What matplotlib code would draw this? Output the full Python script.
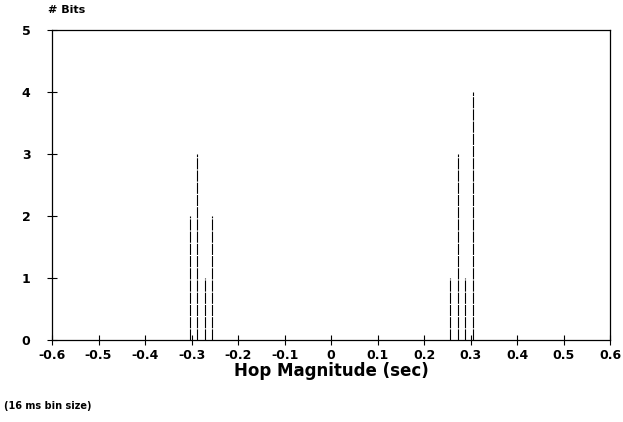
import matplotlib.pyplot as plt

# hop magnitudes (bin centres, 16 ms bins) and counts
hop_left = [-0.304, -0.288, -0.272, -0.256]
bits_left = [2, 3, 1, 2]
hop_right = [0.256, 0.272, 0.288, 0.304]
bits_right = [1, 3, 1, 4]

x_ticks = [-0.6, -0.5, -0.4, -0.3, -0.2, -0.1, 0, 0.1, 0.2, 0.3, 0.4, 0.5, 0.6]
x_labels = ['-0.6', '-0.5', '-0.4', '-0.3', '-0.2', '-0.1', '0',
            '0.1', '0.2', '0.3', '0.4', '0.5', '0.6']
y_ticks = [0, 1, 2, 3, 4, 5]

fig = plt.figure(figsize=(6.23, 4.22), dpi=100)
ax = fig.add_axes([0.0835, 0.194, 0.896, 0.735])

ax.vlines(hop_left + hop_right, 0, bits_left + bits_right,
          colors='black', linewidth=0.8, linestyles=(0, (10, 1)))

ax.set_xlim(-0.6, 0.6)
ax.set_ylim(0, 5)
ax.set_xticks(x_ticks)
ax.set_xticklabels(x_labels, fontsize=9, fontweight='bold')
ax.set_yticks(y_ticks)
ax.set_yticklabels([str(v) for v in y_ticks], fontsize=9, fontweight='bold')
ax.tick_params(direction='inout', length=7, width=0.8)
ax.tick_params(axis='x', pad=3)
ax.tick_params(axis='y', pad=12)
for s in ax.spines.values():
    s.set_linewidth(0.9)

ax.set_xlabel('Hop Magnitude (sec)', fontsize=12, fontweight='bold', labelpad=0)
fig.text(0.077, 0.977, '# Bits', fontsize=8, fontweight='bold', va='center')
fig.text(0.006, 0.038, '(16 ms bin size)', fontsize=7, fontweight='bold', va='center')

fig.savefig('out.png', dpi=100)
